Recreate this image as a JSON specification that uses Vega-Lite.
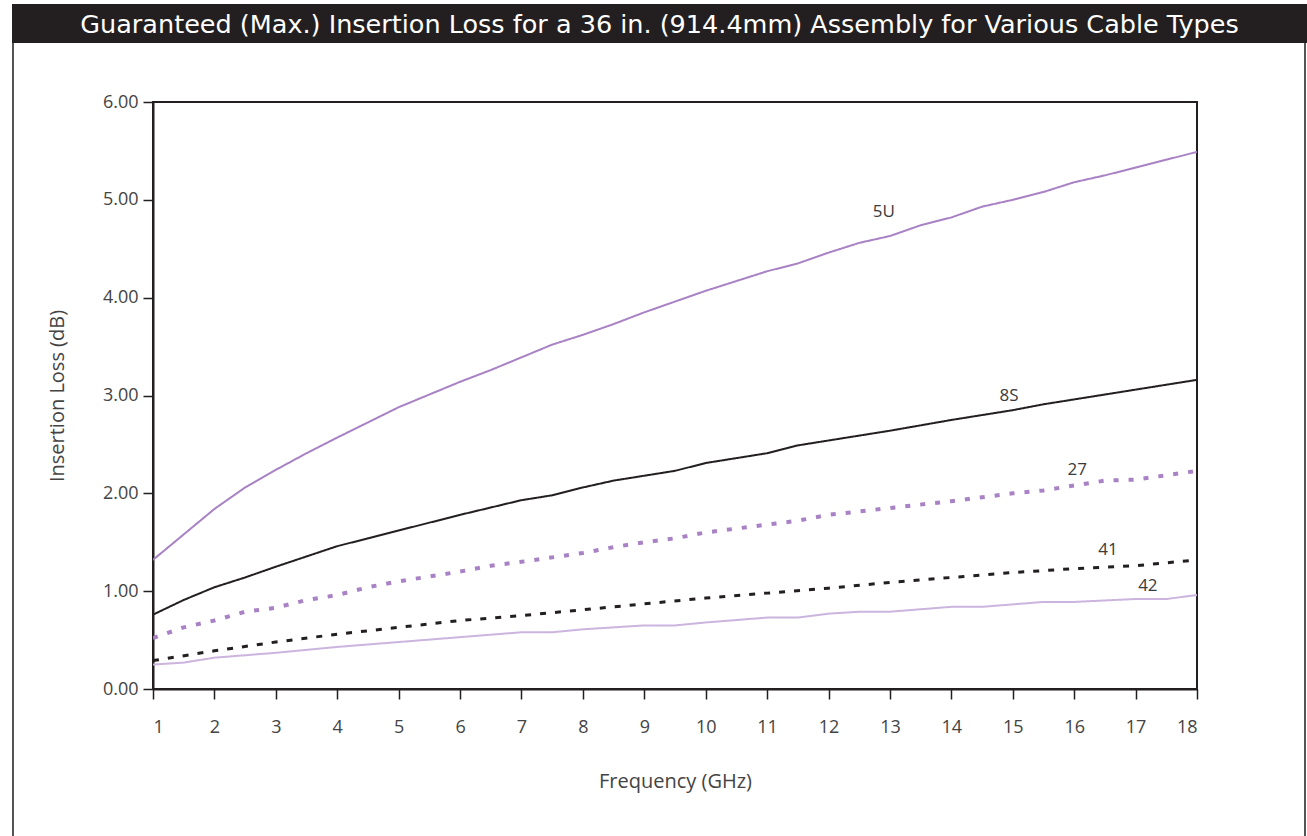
{
  "$schema": "https://vega.github.io/schema/vega-lite/v6.json",
  "padding": {"left": 12, "top": 4, "right": 0, "bottom": 0},
  "background": "white",
  "bounds": "flush",
  "spacing": 0,
  "config": {
    "font": "Open Sans",
    "view": {"stroke": null}
  },
  "datasets": {
    "curves": [
      {"cable": "5U", "freq": 1, "loss": 1.32},
      {"cable": "5U", "freq": 2, "loss": 1.84},
      {"cable": "5U", "freq": 2.5, "loss": 2.06},
      {"cable": "5U", "freq": 3, "loss": 2.24},
      {"cable": "5U", "freq": 3.5, "loss": 2.41},
      {"cable": "5U", "freq": 4, "loss": 2.57},
      {"cable": "5U", "freq": 5, "loss": 2.88},
      {"cable": "5U", "freq": 6, "loss": 3.14},
      {"cable": "5U", "freq": 6.5, "loss": 3.26},
      {"cable": "5U", "freq": 7, "loss": 3.39},
      {"cable": "5U", "freq": 7.5, "loss": 3.52},
      {"cable": "5U", "freq": 8, "loss": 3.62},
      {"cable": "5U", "freq": 8.5, "loss": 3.73},
      {"cable": "5U", "freq": 9, "loss": 3.85},
      {"cable": "5U", "freq": 9.5, "loss": 3.96},
      {"cable": "5U", "freq": 10, "loss": 4.07},
      {"cable": "5U", "freq": 11, "loss": 4.27},
      {"cable": "5U", "freq": 11.5, "loss": 4.35},
      {"cable": "5U", "freq": 12, "loss": 4.46},
      {"cable": "5U", "freq": 12.5, "loss": 4.56},
      {"cable": "5U", "freq": 13, "loss": 4.63},
      {"cable": "5U", "freq": 13.5, "loss": 4.74},
      {"cable": "5U", "freq": 14, "loss": 4.82},
      {"cable": "5U", "freq": 14.5, "loss": 4.93},
      {"cable": "5U", "freq": 15, "loss": 5.00},
      {"cable": "5U", "freq": 15.5, "loss": 5.08},
      {"cable": "5U", "freq": 16, "loss": 5.18},
      {"cable": "5U", "freq": 16.5, "loss": 5.25},
      {"cable": "5U", "freq": 17, "loss": 5.33},
      {"cable": "5U", "freq": 17.5, "loss": 5.41},
      {"cable": "5U", "freq": 18, "loss": 5.49},
      {"cable": "8S", "freq": 1, "loss": 0.76},
      {"cable": "8S", "freq": 1.5, "loss": 0.91},
      {"cable": "8S", "freq": 2, "loss": 1.04},
      {"cable": "8S", "freq": 2.5, "loss": 1.14},
      {"cable": "8S", "freq": 3, "loss": 1.25},
      {"cable": "8S", "freq": 4, "loss": 1.46},
      {"cable": "8S", "freq": 4.5, "loss": 1.54},
      {"cable": "8S", "freq": 5, "loss": 1.62},
      {"cable": "8S", "freq": 6, "loss": 1.78},
      {"cable": "8S", "freq": 7, "loss": 1.93},
      {"cable": "8S", "freq": 7.5, "loss": 1.98},
      {"cable": "8S", "freq": 8, "loss": 2.06},
      {"cable": "8S", "freq": 8.5, "loss": 2.13},
      {"cable": "8S", "freq": 9, "loss": 2.18},
      {"cable": "8S", "freq": 9.5, "loss": 2.23},
      {"cable": "8S", "freq": 10, "loss": 2.31},
      {"cable": "8S", "freq": 10.5, "loss": 2.36},
      {"cable": "8S", "freq": 11, "loss": 2.41},
      {"cable": "8S", "freq": 11.5, "loss": 2.49},
      {"cable": "8S", "freq": 12, "loss": 2.54},
      {"cable": "8S", "freq": 12.5, "loss": 2.59},
      {"cable": "8S", "freq": 13, "loss": 2.64},
      {"cable": "8S", "freq": 14, "loss": 2.75},
      {"cable": "8S", "freq": 15, "loss": 2.85},
      {"cable": "8S", "freq": 15.5, "loss": 2.91},
      {"cable": "8S", "freq": 16, "loss": 2.96},
      {"cable": "8S", "freq": 17, "loss": 3.06},
      {"cable": "8S", "freq": 18, "loss": 3.16},
      {"cable": "27", "freq": 1, "loss": 0.52},
      {"cable": "27", "freq": 1.5, "loss": 0.63},
      {"cable": "27", "freq": 2, "loss": 0.70},
      {"cable": "27", "freq": 2.5, "loss": 0.79},
      {"cable": "27", "freq": 3, "loss": 0.83},
      {"cable": "27", "freq": 3.5, "loss": 0.91},
      {"cable": "27", "freq": 4, "loss": 0.96},
      {"cable": "27", "freq": 4.5, "loss": 1.04},
      {"cable": "27", "freq": 5, "loss": 1.10},
      {"cable": "27", "freq": 6, "loss": 1.20},
      {"cable": "27", "freq": 6.5, "loss": 1.26},
      {"cable": "27", "freq": 7, "loss": 1.30},
      {"cable": "27", "freq": 8, "loss": 1.39},
      {"cable": "27", "freq": 8.5, "loss": 1.45},
      {"cable": "27", "freq": 9, "loss": 1.50},
      {"cable": "27", "freq": 9.5, "loss": 1.54},
      {"cable": "27", "freq": 10, "loss": 1.60},
      {"cable": "27", "freq": 11, "loss": 1.68},
      {"cable": "27", "freq": 11.5, "loss": 1.72},
      {"cable": "27", "freq": 12, "loss": 1.78},
      {"cable": "27", "freq": 13, "loss": 1.85},
      {"cable": "27", "freq": 14, "loss": 1.92},
      {"cable": "27", "freq": 15, "loss": 2.00},
      {"cable": "27", "freq": 15.5, "loss": 2.03},
      {"cable": "27", "freq": 16, "loss": 2.08},
      {"cable": "27", "freq": 16.5, "loss": 2.13},
      {"cable": "27", "freq": 17, "loss": 2.14},
      {"cable": "27", "freq": 18, "loss": 2.23},
      {"cable": "41", "freq": 1, "loss": 0.29},
      {"cable": "41", "freq": 2, "loss": 0.39},
      {"cable": "41", "freq": 3, "loss": 0.48},
      {"cable": "41", "freq": 4, "loss": 0.56},
      {"cable": "41", "freq": 5, "loss": 0.63},
      {"cable": "41", "freq": 6, "loss": 0.70},
      {"cable": "41", "freq": 7, "loss": 0.75},
      {"cable": "41", "freq": 8, "loss": 0.81},
      {"cable": "41", "freq": 9, "loss": 0.87},
      {"cable": "41", "freq": 10, "loss": 0.93},
      {"cable": "41", "freq": 11, "loss": 0.98},
      {"cable": "41", "freq": 12, "loss": 1.03},
      {"cable": "41", "freq": 13, "loss": 1.09},
      {"cable": "41", "freq": 14, "loss": 1.14},
      {"cable": "41", "freq": 15, "loss": 1.19},
      {"cable": "41", "freq": 16, "loss": 1.23},
      {"cable": "41", "freq": 17, "loss": 1.26},
      {"cable": "41", "freq": 18, "loss": 1.32},
      {"cable": "42", "freq": 1, "loss": 0.25},
      {"cable": "42", "freq": 1.5, "loss": 0.27},
      {"cable": "42", "freq": 2, "loss": 0.32},
      {"cable": "42", "freq": 3, "loss": 0.37},
      {"cable": "42", "freq": 4, "loss": 0.43},
      {"cable": "42", "freq": 5, "loss": 0.48},
      {"cable": "42", "freq": 6, "loss": 0.53},
      {"cable": "42", "freq": 7, "loss": 0.58},
      {"cable": "42", "freq": 7.5, "loss": 0.58},
      {"cable": "42", "freq": 8, "loss": 0.61},
      {"cable": "42", "freq": 9, "loss": 0.65},
      {"cable": "42", "freq": 9.5, "loss": 0.65},
      {"cable": "42", "freq": 10, "loss": 0.68},
      {"cable": "42", "freq": 11, "loss": 0.73},
      {"cable": "42", "freq": 11.5, "loss": 0.73},
      {"cable": "42", "freq": 12, "loss": 0.77},
      {"cable": "42", "freq": 12.5, "loss": 0.79},
      {"cable": "42", "freq": 13, "loss": 0.79},
      {"cable": "42", "freq": 14, "loss": 0.84},
      {"cable": "42", "freq": 14.5, "loss": 0.84},
      {"cable": "42", "freq": 15.5, "loss": 0.89},
      {"cable": "42", "freq": 16, "loss": 0.89},
      {"cable": "42", "freq": 17, "loss": 0.92},
      {"cable": "42", "freq": 17.5, "loss": 0.92},
      {"cable": "42", "freq": 18, "loss": 0.96}
    ],
    "labels": [
      {"cable": "5U", "freq": 12.9, "loss": 4.88},
      {"cable": "8S", "freq": 14.94, "loss": 3.0},
      {"cable": "27", "freq": 16.05, "loss": 2.24},
      {"cable": "41", "freq": 16.55, "loss": 1.42},
      {"cable": "42", "freq": 17.2, "loss": 1.05}
    ],
    "heading": [
      {"text": "Guaranteed (Max.) Insertion Loss for a 36 in. (914.4mm) Assembly for Various Cable Types"}
    ],
    "blank": [{"text": ""}]
  },
  "vconcat": [
    {
      "width": 1295,
      "height": 39,
      "view": {"fill": "#231f20", "stroke": null},
      "data": {"name": "heading"},
      "mark": {"type": "text", "color": "white", "font": "DejaVu Sans", "fontSize": 25.5, "align": "center", "baseline": "middle", "dy": 1},
      "encoding": {"text": {"field": "text"}}
    },
    {
      "spacing": 0,
      "bounds": "flush",
      "hconcat": [
        {
          "width": 2,
          "height": 793,
          "view": {"fill": "#555555", "stroke": null},
          "data": {"name": "blank"},
          "mark": {"type": "text"},
          "encoding": {"text": {"field": "text"}}
        },
        {
          "width": 139,
          "height": 587,
          "data": {"name": "blank"},
          "mark": {"type": "text"},
          "encoding": {"text": {"field": "text"}}
        },
        {
          "spacing": 0,
          "bounds": "flush",
          "vconcat": [
            {
              "width": 1044,
              "height": 59,
              "data": {"name": "blank"},
              "mark": {"type": "text"},
              "encoding": {"text": {"field": "text"}}
            },
            {
              "width": 1044,
              "height": 587,
              "view": {"stroke": "#231f20", "strokeWidth": 2},
              "encoding": {
                "x": {
                  "field": "freq", "type": "quantitative",
                  "scale": {"domain": [1, 18], "nice": false, "zero": false},
                  "axis": {
                    "title": "Frequency (GHz)",
                    "values": [1,2,3,4,5,6,7,8,9,10,11,12,13,14,15,16,17,18],
                    "format": "d",
                    "grid": false,
                    "domainColor": "#231f20", "domainWidth": 2,
                    "tickColor": "#231f20", "tickWidth": 1.5, "tickSize": 10,
                    "labelFont": "Open Sans", "labelFontSize": 18, "labelColor": "#444444",
                    "labelPadding": 19,
                    "titleFont": "Open Sans", "titleFontSize": 20, "titleFontWeight": "normal", "titleColor": "#444444",
                    "titlePadding": 35
                  }
                },
                "y": {
                  "field": "loss", "type": "quantitative",
                  "scale": {"domain": [0, 6], "nice": false},
                  "axis": {
                    "title": "Insertion Loss (dB)",
                    "values": [0,1,2,3,4,5,6],
                    "format": ".2f",
                    "grid": false,
                    "domainColor": "#231f20", "domainWidth": 2,
                    "tickColor": "#231f20", "tickWidth": 1.5, "tickSize": 10,
                    "labelFont": "Open Sans", "labelFontSize": 18, "labelColor": "#444444",
                    "labelPadding": 5,
                    "titleFont": "Open Sans", "titleFontSize": 20, "titleFontWeight": "normal", "titleColor": "#444444",
                    "titlePadding": 35
                  }
                }
              },
              "layer": [
                {
                  "data": {"name": "curves"},
                  "mark": {"type": "line", "clip": true},
                  "encoding": {
                    "detail": {"field": "cable"},
                    "color": {
                      "field": "cable", "type": "nominal", "legend": null,
                      "scale": {"domain": ["5U", "8S", "27", "41", "42"], "range": ["#a882c4", "#231f20", "#a882c4", "#231f20", "#cbb4de"]}
                    },
                    "strokeDash": {
                      "field": "cable", "type": "nominal", "legend": null,
                      "scale": {"domain": ["5U", "8S", "27", "41", "42"], "range": [[1, 0], [1, 0], [5, 10], [6, 9], [1, 0]]}
                    },
                    "strokeWidth": {
                      "field": "cable", "type": "nominal", "legend": null,
                      "scale": {"type": "ordinal", "domain": ["5U", "8S", "27", "41", "42"], "range": [2, 2, 4, 3, 2]}
                    }
                  }
                },
                {
                  "data": {"name": "labels"},
                  "mark": {"type": "text", "font": "Open Sans", "fontSize": 17, "color": "#3a3a3a", "align": "center", "baseline": "middle"},
                  "encoding": {"text": {"field": "cable"}}
                }
              ]
            }
          ]
        },
        {
          "width": 1151,
          "height": 587,
          "data": {"name": "blank"},
          "mark": {"type": "text"},
          "encoding": {"text": {"field": "text"}}
        },
        {
          "width": 2,
          "height": 793,
          "view": {"fill": "#555555", "stroke": null},
          "data": {"name": "blank"},
          "mark": {"type": "text"},
          "encoding": {"text": {"field": "text"}}
        }
      ]
    }
  ]
}
